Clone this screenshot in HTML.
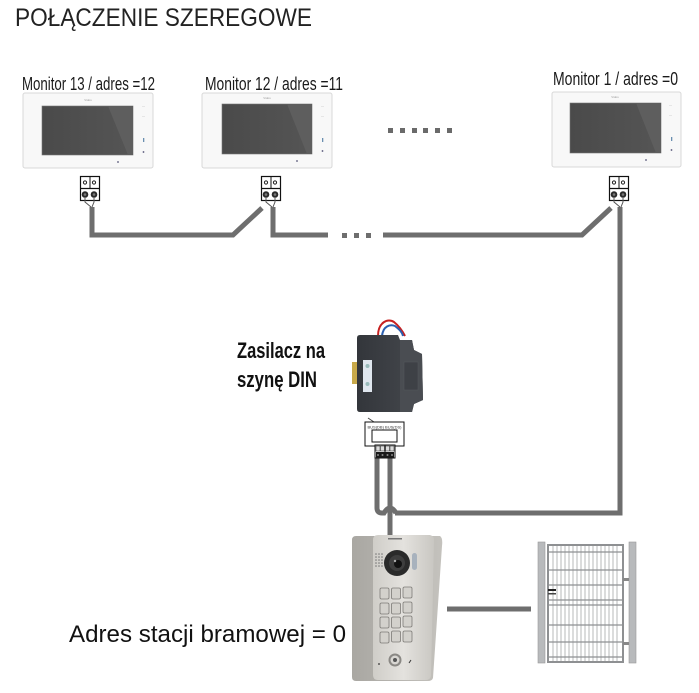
<!DOCTYPE html>
<html><head><meta charset="utf-8"><style>
html,body{margin:0;padding:0;background:#fff;}
svg{display:block;}
</style></head><body>
<svg width="699" height="693" viewBox="0 0 699 693" xmlns="http://www.w3.org/2000/svg">
<defs>
<linearGradient id="scr" x1="0" y1="0" x2="1" y2="0">
<stop offset="0" stop-color="#4a4a4a"/><stop offset="1" stop-color="#555"/></linearGradient>
<linearGradient id="plate" x1="0" y1="0" x2="1" y2="0">
<stop offset="0" stop-color="#cfcdc8"/><stop offset="0.5" stop-color="#e4e2de"/><stop offset="1" stop-color="#c9c7c2"/></linearGradient>
<linearGradient id="side" x1="0" y1="0" x2="1" y2="0">
<stop offset="0" stop-color="#a9a7a2"/><stop offset="1" stop-color="#c4c2bd"/></linearGradient>
<linearGradient id="psu" x1="0" y1="0" x2="1" y2="0">
<stop offset="0" stop-color="#33363b"/><stop offset="1" stop-color="#46494e"/></linearGradient>
<g id="term">
<rect x="0.5" y="0.5" width="19" height="24" fill="#fff" stroke="#111" stroke-width="1.2"/>
<line x1="0.5" y1="12.5" x2="19.5" y2="12.5" stroke="#111" stroke-width="1.2"/>
<line x1="10" y1="1" x2="10" y2="12" stroke="#111" stroke-width="1"/>
<circle cx="5" cy="6.5" r="1.6" fill="none" stroke="#222" stroke-width="1"/>
<circle cx="14" cy="6.5" r="1.6" fill="none" stroke="#222" stroke-width="1"/>
<circle cx="5" cy="18.5" r="3.3" fill="#2a2a2a"/>
<circle cx="14" cy="18.5" r="3.3" fill="#2a2a2a"/>
<circle cx="5" cy="18.5" r="1.3" fill="#777"/>
<circle cx="14" cy="18.5" r="1.3" fill="#777"/>
<path d="M5 22 L5 26 L11 31 M14 22 L14 26 L12 31" stroke="#555" stroke-width="1" fill="none"/>
</g>
</defs>

<!-- Title -->
<text x="15" y="26" font-family="Liberation Sans, sans-serif" font-size="25" fill="#222" textLength="297" lengthAdjust="spacingAndGlyphs">POŁĄCZENIE SZEREGOWE</text>

<!-- Monitor labels -->
<g font-family="Liberation Sans Narrow, Liberation Sans, sans-serif" font-size="18" fill="#1a1a1a">
<text x="22" y="90" textLength="133" lengthAdjust="spacingAndGlyphs">Monitor 13 / adres =12</text>
<text x="205" y="90" textLength="138" lengthAdjust="spacingAndGlyphs">Monitor 12 / adres =11</text>
<text x="553" y="85" textLength="125" lengthAdjust="spacingAndGlyphs">Monitor 1 / adres =0</text>
</g>

<!-- Monitor 13 -->
<g>
<rect x="23" y="93" width="130" height="75" rx="2" fill="#f8f8f8" stroke="#d8d8d8"/>
<rect x="42" y="106" width="91" height="49" fill="url(#scr)" stroke="#777" stroke-width="0.6"/>
<polygon points="108,106 133,106 133,155 128,155" fill="#5e5e5e"/>
<text x="88" y="101" font-family="Liberation Sans, sans-serif" font-size="3" fill="#999" text-anchor="middle">Vidos</text>
<rect x="142" y="106" width="3" height="1" fill="#e6e6e6"/><rect x="142" y="116" width="3" height="1" fill="#e6e6e6"/>
<rect x="143" y="138" width="1.3" height="4" fill="#6a8fb0"/><circle cx="143.5" cy="152" r="0.9" fill="#557"/>
<circle cx="118" cy="162" r="0.9" fill="#557"/>
</g>
<!-- Monitor 12 -->
<g>
<rect x="202" y="93" width="130" height="75" rx="2" fill="#f8f8f8" stroke="#d8d8d8"/>
<rect x="222" y="104" width="90" height="50" fill="url(#scr)" stroke="#777" stroke-width="0.6"/>
<polygon points="287,104 312,104 312,154 307,154" fill="#5e5e5e"/>
<text x="267" y="99" font-family="Liberation Sans, sans-serif" font-size="3" fill="#999" text-anchor="middle">Vidos</text>
<rect x="321" y="106" width="3" height="1" fill="#e6e6e6"/><rect x="321" y="116" width="3" height="1" fill="#e6e6e6"/>
<rect x="322" y="138" width="1.3" height="4" fill="#6a8fb0"/><circle cx="322.5" cy="151" r="0.9" fill="#557"/>
<circle cx="297" cy="161" r="0.9" fill="#557"/>
</g>
<!-- Monitor 1 -->
<g>
<rect x="552" y="92" width="129" height="75" rx="2" fill="#f8f8f8" stroke="#d8d8d8"/>
<rect x="570" y="103" width="91" height="50" fill="url(#scr)" stroke="#777" stroke-width="0.6"/>
<polygon points="636,103 661,103 661,153 656,153" fill="#5e5e5e"/>
<text x="615" y="98" font-family="Liberation Sans, sans-serif" font-size="3" fill="#999" text-anchor="middle">Vidos</text>
<rect x="669" y="105" width="3" height="1" fill="#e6e6e6"/><rect x="669" y="115" width="3" height="1" fill="#e6e6e6"/>
<rect x="671" y="137" width="1.3" height="4" fill="#6a8fb0"/><circle cx="671.5" cy="150" r="0.9" fill="#557"/>
<circle cx="646" cy="160" r="0.9" fill="#557"/>
</g>

<!-- dotted ellipsis between monitors -->
<g fill="#6a6a6a">
<rect x="388" y="128" width="5" height="5"/><rect x="400" y="128" width="5" height="5"/>
<rect x="412" y="128" width="5" height="5"/><rect x="423" y="128" width="5" height="5"/>
<rect x="435" y="128" width="5" height="5"/><rect x="447" y="128" width="5" height="5"/>
</g>

<!-- cables -->
<g stroke="#6e6e6e" stroke-width="5" fill="none" stroke-linejoin="miter">
<path d="M92 207 V235 H233 L262 208"/>
<path d="M273 207 V235 H328"/>
<path d="M383 235 H582 L611 208"/>
<path d="M620 207 V513 H395"/>
<path d="M390 458 V535"/>
<path d="M377 458 V508 Q377 513 382 513 L384 513 Q390 503 396 513"/>
<path d="M447 609 H531"/>
</g>
<g fill="#6e6e6e">
<rect x="342" y="233" width="5" height="5"/><rect x="354" y="233" width="5" height="5"/><rect x="366" y="233" width="5" height="5"/>
</g>

<!-- terminals -->
<use href="#term" x="80" y="176"/>
<use href="#term" x="261" y="176"/>
<use href="#term" x="609" y="176"/>

<!-- PSU label -->
<g font-family="Liberation Sans Narrow, Liberation Sans, sans-serif" font-weight="bold" font-size="22" fill="#111">
<text x="237" y="358" textLength="88" lengthAdjust="spacingAndGlyphs">Zasilacz na</text>
<text x="237" y="387" textLength="80" lengthAdjust="spacingAndGlyphs">szynę DIN</text>
</g>

<!-- PSU -->
<g>
<path d="M378 336 C378 322 388 318 394 322 C399 326 402 330 405 336" stroke="#c62020" stroke-width="2" fill="none"/>
<path d="M382 336 C383 326 390 324 395 326 C400 330 402 332 403 336" stroke="#2a5fb0" stroke-width="2" fill="none"/>
<rect x="352" y="362" width="6" height="22" fill="#c8a94a"/>
<path d="M357 338 Q357 335 360 335 L398 335 L400 340 L412 340 L414 350 L422 354 L423 400 L414 404 L412 412 L360 412 Q357 412 357 409 Z" fill="url(#psu)"/>
<path d="M400 340 L412 340 L414 350 L422 354 L423 400 L414 404 L412 412 L400 412 Z" fill="#4a4d52"/>
<rect x="363" y="360" width="9" height="32" fill="#dfe6ee"/>
<circle cx="367.5" cy="366" r="2" fill="#9bb"/><circle cx="367.5" cy="384" r="2" fill="#9bb"/>
<rect x="404" y="362" width="14" height="28" fill="#3e4146" stroke="#55585c" stroke-width="0.5"/>
</g>

<!-- DIN module -->
<g>
<path d="M368 418 L374 422" stroke="#444" stroke-width="1"/>
<rect x="365" y="422" width="39" height="24" fill="#fff" stroke="#111" stroke-width="1"/>
<text x="384.5" y="428.5" font-family="Liberation Sans, sans-serif" font-size="4" fill="#333" text-anchor="middle">BUS(DB) BUS(DS)</text>
<rect x="372" y="430" width="25" height="12" fill="#fff" stroke="#111" stroke-width="1"/>
<rect x="375" y="445" width="20" height="13" fill="#fff" stroke="#111" stroke-width="1"/>
<line x1="385" y1="445" x2="385" y2="458" stroke="#111" stroke-width="1"/>
<rect x="376" y="446" width="4" height="5" fill="#ddd" stroke="#222" stroke-width="0.5"/>
<rect x="380.5" y="446" width="4" height="5" fill="#ddd" stroke="#222" stroke-width="0.5"/>
<rect x="385.5" y="446" width="4" height="5" fill="#ddd" stroke="#222" stroke-width="0.5"/>
<rect x="390" y="446" width="4" height="5" fill="#ddd" stroke="#222" stroke-width="0.5"/>
<rect x="376" y="452" width="18" height="6" fill="#1a1a1a"/>
<circle cx="378" cy="455" r="1" fill="#888"/><circle cx="382.5" cy="455" r="1" fill="#888"/>
<circle cx="387.5" cy="455" r="1" fill="#888"/><circle cx="392" cy="455" r="1" fill="#888"/>
</g>

<!-- Door station -->
<g>
<path d="M356 536 L440 536 Q443 538 442 546 L433 678 Q432 681 428 681 L356 681 Q352 681 352 677 L352 540 Q352 536 356 536 Z" fill="url(#side)"/>
<path d="M378 535 L430 535 Q434 536 434 540 L431 676 Q430 680 426 680 L378 680 Q373 680 373 675 L373 540 Q373 535 378 535 Z" fill="url(#plate)"/>
<rect x="388" y="538" width="14" height="1.5" fill="#777"/>
<circle cx="397" cy="563" r="13" fill="#2a2a2a"/>
<circle cx="397" cy="563" r="8" fill="#3e3e3e"/>
<circle cx="398" cy="564" r="4" fill="#111"/>
<circle cx="395" cy="561" r="1.2" fill="#aaa"/>
<rect x="412" y="553" width="5" height="17" rx="2.5" fill="#a8b2bd"/>
<g fill="#777">
<circle cx="376" cy="554" r="0.8"/><circle cx="379" cy="554" r="0.8"/><circle cx="382" cy="554" r="0.8"/>
<circle cx="376" cy="557" r="0.8"/><circle cx="379" cy="557" r="0.8"/><circle cx="382" cy="557" r="0.8"/>
<circle cx="376" cy="560" r="0.8"/><circle cx="379" cy="560" r="0.8"/><circle cx="382" cy="560" r="0.8"/>
<circle cx="376" cy="563" r="0.8"/><circle cx="379" cy="563" r="0.8"/><circle cx="382" cy="563" r="0.8"/>
<circle cx="376" cy="566" r="0.8"/><circle cx="379" cy="566" r="0.8"/><circle cx="382" cy="566" r="0.8"/>
</g>
<g fill="#d3d1cc" stroke="#7d7b77" stroke-width="0.8">
<rect x="380" y="588" width="9" height="11" rx="1.5"/><rect x="391.5" y="588" width="9" height="11" rx="1.5"/><rect x="403" y="587" width="9" height="11" rx="1.5"/>
<rect x="380" y="603" width="9" height="11" rx="1.5"/><rect x="391.5" y="603" width="9" height="11" rx="1.5"/><rect x="403" y="602" width="9" height="11" rx="1.5"/>
<rect x="380" y="617" width="9" height="11" rx="1.5"/><rect x="391.5" y="617" width="9" height="11" rx="1.5"/><rect x="403" y="616" width="9" height="11" rx="1.5"/>
<rect x="380" y="632" width="9" height="11" rx="1.5"/><rect x="391.5" y="631" width="9" height="11" rx="1.5"/><rect x="403" y="631" width="9" height="11" rx="1.5"/>
</g>
<circle cx="395" cy="660" r="6.5" fill="#8a8884"/>
<circle cx="395" cy="660" r="4.5" fill="#d8d6d2"/>
<circle cx="395" cy="660" r="2" fill="#555"/>
<circle cx="379" cy="664" r="0.9" fill="#333"/>
<path d="M409 663 L411 660" stroke="#333" stroke-width="1"/>
</g>

<!-- Gate -->
<g>
<rect x="538" y="542" width="7" height="121" fill="#b8babc" stroke="#999" stroke-width="0.6"/>
<rect x="629" y="542" width="7" height="121" fill="#b8babc" stroke="#999" stroke-width="0.6"/>
<rect x="548" y="545" width="75" height="117" fill="none" stroke="#8e9092" stroke-width="2"/>
<g stroke="#a5a7a9" stroke-width="0.8">
<line x1="553" y1="546" x2="553" y2="661"/><line x1="557" y1="546" x2="557" y2="661"/><line x1="561" y1="546" x2="561" y2="661"/>
<line x1="565" y1="546" x2="565" y2="661"/><line x1="569" y1="546" x2="569" y2="661"/><line x1="573" y1="546" x2="573" y2="661"/>
<line x1="577" y1="546" x2="577" y2="661"/><line x1="581" y1="546" x2="581" y2="661"/><line x1="585" y1="546" x2="585" y2="661"/>
<line x1="589" y1="546" x2="589" y2="661"/><line x1="593" y1="546" x2="593" y2="661"/><line x1="597" y1="546" x2="597" y2="661"/>
<line x1="601" y1="546" x2="601" y2="661"/><line x1="605" y1="546" x2="605" y2="661"/><line x1="609" y1="546" x2="609" y2="661"/>
<line x1="613" y1="546" x2="613" y2="661"/><line x1="617" y1="546" x2="617" y2="661"/>
</g>
<g stroke="#8e9092" stroke-width="1.2">
<line x1="548" y1="552" x2="623" y2="552"/><line x1="548" y1="570" x2="623" y2="570"/>
<line x1="548" y1="585" x2="623" y2="585"/><line x1="548" y1="600" x2="623" y2="600"/>
<line x1="548" y1="605" x2="623" y2="605"/><line x1="548" y1="625" x2="623" y2="625"/>
<line x1="548" y1="642" x2="623" y2="642"/><line x1="548" y1="657" x2="623" y2="657"/>
</g>
<rect x="623" y="578" width="6" height="3" fill="#888"/><rect x="623" y="642" width="6" height="3" fill="#888"/>
<rect x="548" y="589" width="8" height="2" fill="#222"/><rect x="548" y="593" width="8" height="1.5" fill="#444"/>
</g>

<!-- door station label -->
<text x="69" y="642" font-family="Liberation Sans, sans-serif" font-size="24" fill="#111" textLength="277" lengthAdjust="spacingAndGlyphs">Adres stacji bramowej = 0</text>
</svg>
</body></html>
